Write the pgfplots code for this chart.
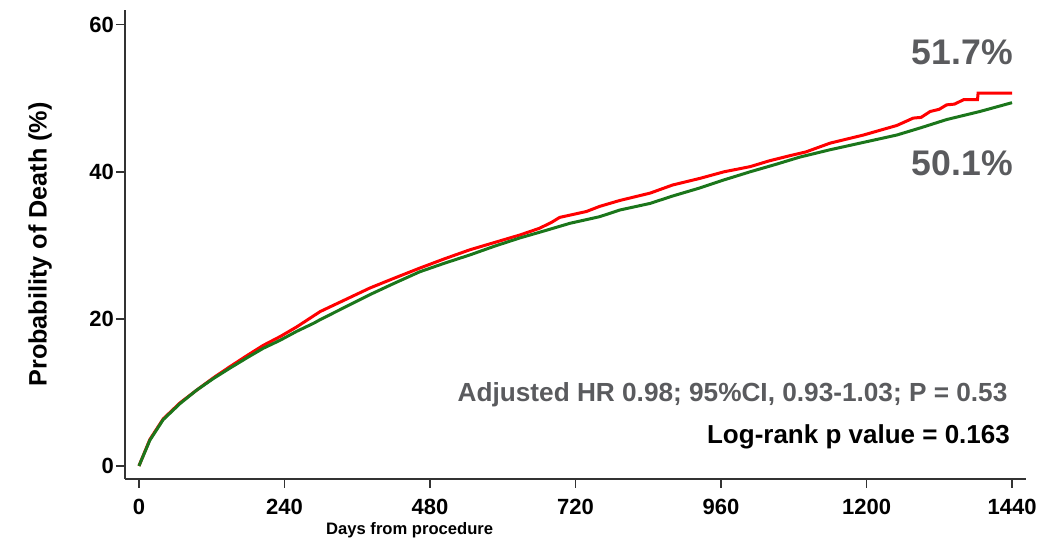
\documentclass[border=0pt]{standalone}
\usepackage{pgfplots}
\pgfplotsset{compat=1.18}
\usepackage{fontspec}
\setmainfont{Liberation Sans}
\definecolor{axisGrey}{HTML}{333333}
\definecolor{noteGrey}{HTML}{5A5B5E}
\definecolor{kmRed}{HTML}{FF0000}
\definecolor{kmGreen}{HTML}{1B761B}

\begin{document}
\begin{tikzpicture}
\begin{axis}[
  name=ax,
  scale only axis,
  width=450.5pt, height=234.5pt,
  xmin=-23, xmax=1463,
  ymin=-1.77, ymax=62,
  axis x line*=bottom, axis y line*=left,
  axis line style={axisGrey,line width=0.75pt},
  tick style={axisGrey,line width=0.75pt},
  tick align=outside,
  major tick length=4.5pt,
  xtick={0,240,480,720,960,1200,1440},
  ytick={0,20,40,60},
  ticklabel style={font=\fontsize{11}{12}\selectfont\bfseries},
  yticklabel style={xshift=2.5pt},
  xticklabel style={yshift=-2pt},
  /pgf/number format/assume math mode=true,
  /pgf/number format/1000 sep={},
  xlabel={Days from procedure},
  ylabel={Probability of Death (\%)},
  xlabel style={font=\fontsize{8.3}{9}\selectfont\bfseries,
    at={(axis description cs:0.316,-0.1087)},anchor=center},
  ylabel style={font=\fontsize{12.6}{14}\selectfont\bfseries,
    at={(axis description cs:-0.0943,0.5)},anchor=center},
  clip=false,
]
\addplot[kmRed,line width=1.5pt] coordinates {
  (0,0) (18,3.6) (40,6.4) (68,8.6) (95,10.3) (123,12.0) (150,13.5)
  (178,15.0) (205,16.4) (233,17.6) (260,18.9) (299,21.0) (340,22.6)
  (381,24.2) (420,25.5) (463,26.9) (505,28.2) (546,29.4) (587,30.4)
  (628,31.4) (660,32.3) (680,33.1) (694,33.8) (738,34.6) (760,35.3)
  (793,36.1) (843,37.1) (880,38.2) (925,39.1) (965,40.0) (1008,40.7)
  (1040,41.5) (1074,42.2) (1100,42.7) (1140,43.9) (1195,45.0)
  (1250,46.3) (1277,47.3) (1290,47.4) (1305,48.2) (1320,48.5)
  (1332,49.1) (1345,49.2) (1360,49.8) (1383,49.8) (1384,50.7) (1440,50.7)
};
\addplot[kmGreen,line width=1.5pt] coordinates {
  (0,0) (18,3.5) (40,6.3) (68,8.5) (95,10.3) (123,11.9) (150,13.3)
  (178,14.7) (205,16.0) (233,17.1) (260,18.3) (288,19.4) (299,19.9)
  (340,21.6) (381,23.3) (420,24.8) (463,26.4) (505,27.6) (546,28.7)
  (587,29.9) (628,31.0) (670,32.0) (711,33.0) (760,33.9) (793,34.8)
  (843,35.7) (880,36.7) (925,37.8) (965,38.9) (1008,40.0) (1050,41.0)
  (1090,42.0) (1140,43.0) (1195,44.0) (1250,45.0) (1290,46.0)
  (1332,47.1) (1387,48.2) (1440,49.4)
};
\node[anchor=east,inner sep=0pt,text=noteGrey,font=\fontsize{17.8}{20}\selectfont\bfseries]
  at (axis cs:1442,56.2) {51.7\%};
\node[anchor=east,inner sep=0pt,text=noteGrey,font=\fontsize{17.8}{20}\selectfont\bfseries]
  at (axis cs:1442,41.2) {50.1\%};
\node[anchor=east,inner sep=0pt,text=noteGrey,font=\fontsize{13.1}{15}\selectfont\bfseries]
  at (axis cs:1433,9.66) {Adjusted HR 0.98; 95\%CI, 0.93-1.03; P = 0.53};
\node[anchor=east,inner sep=0pt,text=black,font=\fontsize{13}{15}\selectfont\bfseries]
  at (axis cs:1437,3.95) {Log-rank p value = 0.163};
\end{axis}
\path[use as bounding box] ([shift={(-62.5pt,-32pt)}]ax.south west)
  rectangle ([shift={(17.5pt,5pt)}]ax.north east);
\end{tikzpicture}
\end{document}
